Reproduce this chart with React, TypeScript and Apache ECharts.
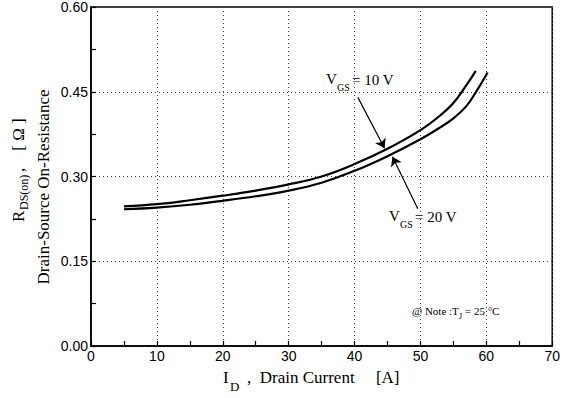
import React, { useEffect, useRef } from "react";
import * as echarts from "echarts";

const current10V = [5, 10, 15, 20, 25, 30, 35, 40, 45, 50, 53, 55, 57, 58.4];
const rds10V = [0.247, 0.251, 0.258, 0.266, 0.275, 0.286, 0.3, 0.322, 0.349, 0.382, 0.408, 0.43, 0.462, 0.487];
const current20V = [5, 10, 15, 20, 25, 30, 35, 40, 45, 50, 53, 55, 57, 58.4, 60.2];
const rds20V = [0.242, 0.245, 0.25, 0.257, 0.265, 0.275, 0.289, 0.31, 0.336, 0.366, 0.387, 0.403, 0.425, 0.449, 0.484];
const arrow10V = [[40.5, 0.44], [44.55, 0.35]];
const arrow20V = [[49.6, 0.243], [45.75, 0.335]];
const xTicks = { min: 0, max: 70, interval: 10 };
const yTicks = { min: 0, max: 0.6, interval: 0.15 };

const SERIF = "'Liberation Serif', 'DejaVu Serif', serif";
const SANS = "'Liberation Sans Narrow', 'Liberation Sans', 'DejaVu Sans', sans-serif";

function txt(x: number, y: number, text: string, size: number, family = SERIF, align = "left") {
  return {
    type: "text",
    x,
    y,
    style: {
      text,
      fill: "#000",
      font: `${size}px ${family}`,
      textAlign: align,
      textVerticalAlign: "middle",
      align,
      verticalAlign: "middle",
    },
  };
}

export default function App() {
  const ref = useRef<HTMLDivElement>(null);
  useEffect(() => {
    document.body.style.margin = "0";
    const chart = echarts.init(ref.current!, null, { renderer: "svg" });
    const line = (xs: number[], ys: number[]) => xs.map((x, i) => [x, ys[i]]);
    const arrowData = (a: number[][]) => [[{ coord: a[0], symbol: "none" }, { coord: a[1], symbol: "arrow" }]];
    chart.setOption({
      animation: false,
      backgroundColor: "#fff",
      grid: {
        left: 91,
        right: 10,
        top: 6,
        bottom: 52,
        show: true,
        borderColor: "#000",
        borderWidth: 1.5,
        backgroundColor: "transparent",
      },
      xAxis: {
        type: "value",
        ...xTicks,
        axisLine: { show: true, lineStyle: { color: "#000", width: 1.5 } },
        axisTick: { show: true, inside: true, length: 5, lineStyle: { color: "#000", width: 1.2 } },
        minorTick: { show: true, splitNumber: 2, length: 5, lineStyle: { color: "#000", width: 1.2 } },
        splitLine: { show: true, lineStyle: { color: "#444", type: [1, 3], width: 1 } },
        axisLabel: { color: "#000", fontSize: 14, fontFamily: SANS, margin: 3 },
      },
      yAxis: {
        type: "value",
        ...yTicks,
        axisLine: { show: true, lineStyle: { color: "#000", width: 1.5 } },
        axisTick: { show: true, inside: true, length: 5, lineStyle: { color: "#000", width: 1.2 } },
        minorTick: { show: true, splitNumber: 2, length: 5, lineStyle: { color: "#000", width: 1.2 } },
        splitLine: { show: true, lineStyle: { color: "#444", type: [1, 3], width: 1 } },
        axisLabel: {
          color: "#000",
          fontSize: 14,
          fontFamily: SANS,
          margin: 3,
          formatter: (v: number) => v.toFixed(2),
        },
      },
      series: [
        {
          name: "VGS = 10 V",
          type: "line",
          smooth: 0.4,
          symbol: "none",
          data: line(current10V, rds10V),
          lineStyle: { color: "#000", width: 2.2 },
          markLine: {
            silent: true,
            symbolSize: 9,
            label: { show: false },
            lineStyle: { color: "#000", width: 1.2, type: "solid" },
            data: arrowData(arrow10V),
          },
        },
        {
          name: "VGS = 20 V",
          type: "line",
          smooth: 0.4,
          symbol: "none",
          data: line(current20V, rds20V),
          lineStyle: { color: "#000", width: 2.2 },
          markLine: {
            silent: true,
            symbolSize: 9,
            label: { show: false },
            lineStyle: { color: "#000", width: 1.2, type: "solid" },
            data: arrowData(arrow20V),
          },
        },
      ],
      graphic: [
        // x axis title
        txt(223, 377, "I", 17),
        txt(230, 386, "D", 13),
        txt(247, 377, ",  Drain Current     [A]", 17),
        // y axis titles (rotated)
        {
          type: "group",
          x: 18,
          y: 222,
          rotation: Math.PI / 2,
          children: [
            txt(0, 0, "R", 17),
            txt(12, 6, "DS(on)", 12),
            txt(50, 0, ",    [ Ω ]", 17),
          ],
        },
        {
          type: "group",
          x: 43,
          y: 187,
          rotation: Math.PI / 2,
          children: [txt(0, 0, "Drain-Source On-Resistance", 17, SERIF, "center")],
        },
        // VGS labels
        txt(326, 79, "V", 15),
        txt(337, 87, "GS", 10),
        txt(352, 80, "= 10 V", 15),
        txt(389, 216, "V", 15),
        txt(400, 224, "GS", 10),
        txt(415, 217, "= 20 V", 15),
        // note
        txt(412, 311, "@ Note :", 11),
        txt(452, 311, "T", 11),
        txt(459, 316, "J", 8),
        txt(465, 311, "= 25 °C", 11),
      ],
    });
    return () => chart.dispose();
  }, []);
  return <div ref={ref} style={{ width: 563, height: 398 }} />;
}
